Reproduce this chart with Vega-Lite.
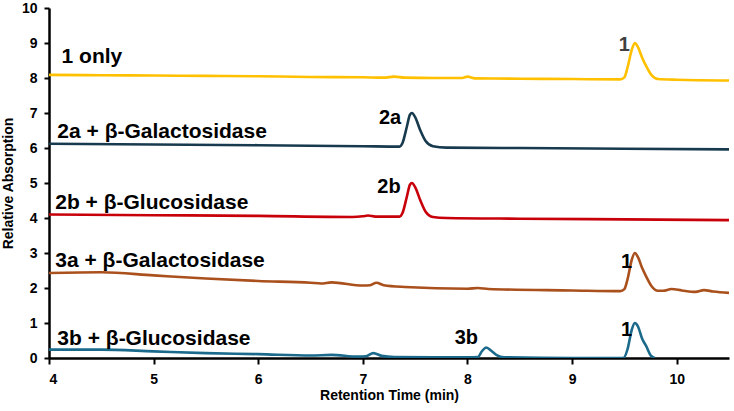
{
  "$schema": "https://vega.github.io/schema/vega-lite/v6.json",
  "width": 680,
  "height": 350,
  "autosize": {"type": "none"},
  "padding": {"left": 49, "top": 8, "right": 5, "bottom": 53},
  "background": "white",
  "config": {
    "view": {"stroke": null},
    "axis": {
      "grid": false,
      "domainColor": "black", "domainWidth": 2.5, "tickColor": "black", "tickWidth": 2,
      "labelFont": "Liberation Sans", "labelFontWeight": "bold", "labelFontSize": 14, "labelColor": "black",
      "titleFont": "Liberation Sans", "titleFontWeight": "bold", "titleFontSize": 14, "titleColor": "black",
      "zindex": 1
    },
    "axisX": {"tickSize": 6, "labelPadding": 8, "titlePadding": 2},
    "axisY": {"tickSize": 5, "labelPadding": 7, "titlePadding": 6}
  },
  "datasets": {
    "traces": [
      {"trace": "1 only", "t": 4.0, "v": 8.09}, {"trace": "1 only", "t": 4.5, "v": 8.08}, {"trace": "1 only", "t": 5.0, "v": 8.07}, {"trace": "1 only", "t": 5.5, "v": 8.06}, {"trace": "1 only", "t": 6.0, "v": 8.05}, {"trace": "1 only", "t": 6.5, "v": 8.03}, {"trace": "1 only", "t": 7.0, "v": 8.02}, {"trace": "1 only", "t": 7.2, "v": 8.01}, {"trace": "1 only", "t": 7.3, "v": 8.04}, {"trace": "1 only", "t": 7.4, "v": 8.01}, {"trace": "1 only", "t": 7.7, "v": 8.0}, {"trace": "1 only", "t": 7.95, "v": 8.0}, {"trace": "1 only", "t": 8.0, "v": 8.04}, {"trace": "1 only", "t": 8.07, "v": 7.99}, {"trace": "1 only", "t": 8.5, "v": 7.98}, {"trace": "1 only", "t": 9.0, "v": 7.97}, {"trace": "1 only", "t": 9.46, "v": 7.96}, {"trace": "1 only", "t": 9.5, "v": 8.02}, {"trace": "1 only", "t": 9.53, "v": 8.3}, {"trace": "1 only", "t": 9.57, "v": 8.8}, {"trace": "1 only", "t": 9.6, "v": 9.0}, {"trace": "1 only", "t": 9.63, "v": 8.88}, {"trace": "1 only", "t": 9.67, "v": 8.58}, {"trace": "1 only", "t": 9.71, "v": 8.33}, {"trace": "1 only", "t": 9.76, "v": 8.08}, {"trace": "1 only", "t": 9.82, "v": 7.97}, {"trace": "1 only", "t": 10.0, "v": 7.95}, {"trace": "1 only", "t": 10.5, "v": 7.93},

      {"trace": "2a + β-Galactosidase", "t": 4.0, "v": 6.12}, {"trace": "2a + β-Galactosidase", "t": 5.0, "v": 6.1}, {"trace": "2a + β-Galactosidase", "t": 6.0, "v": 6.08}, {"trace": "2a + β-Galactosidase", "t": 7.0, "v": 6.05}, {"trace": "2a + β-Galactosidase", "t": 7.35, "v": 6.04}, {"trace": "2a + β-Galactosidase", "t": 7.38, "v": 6.15}, {"trace": "2a + β-Galactosidase", "t": 7.42, "v": 6.6}, {"trace": "2a + β-Galactosidase", "t": 7.45, "v": 6.95}, {"trace": "2a + β-Galactosidase", "t": 7.47, "v": 7.0}, {"trace": "2a + β-Galactosidase", "t": 7.5, "v": 6.88}, {"trace": "2a + β-Galactosidase", "t": 7.55, "v": 6.5}, {"trace": "2a + β-Galactosidase", "t": 7.6, "v": 6.2}, {"trace": "2a + β-Galactosidase", "t": 7.67, "v": 6.05}, {"trace": "2a + β-Galactosidase", "t": 7.8, "v": 6.01}, {"trace": "2a + β-Galactosidase", "t": 8.5, "v": 6.0}, {"trace": "2a + β-Galactosidase", "t": 9.5, "v": 5.98}, {"trace": "2a + β-Galactosidase", "t": 10.5, "v": 5.96},

      {"trace": "2b + β-Glucosidase", "t": 4.0, "v": 4.1}, {"trace": "2b + β-Glucosidase", "t": 5.0, "v": 4.08}, {"trace": "2b + β-Glucosidase", "t": 6.0, "v": 4.06}, {"trace": "2b + β-Glucosidase", "t": 6.9, "v": 4.03}, {"trace": "2b + β-Glucosidase", "t": 7.0, "v": 4.05}, {"trace": "2b + β-Glucosidase", "t": 7.05, "v": 4.07}, {"trace": "2b + β-Glucosidase", "t": 7.12, "v": 4.04}, {"trace": "2b + β-Glucosidase", "t": 7.35, "v": 4.04}, {"trace": "2b + β-Glucosidase", "t": 7.38, "v": 4.15}, {"trace": "2b + β-Glucosidase", "t": 7.42, "v": 4.6}, {"trace": "2b + β-Glucosidase", "t": 7.45, "v": 4.95}, {"trace": "2b + β-Glucosidase", "t": 7.47, "v": 5.0}, {"trace": "2b + β-Glucosidase", "t": 7.5, "v": 4.88}, {"trace": "2b + β-Glucosidase", "t": 7.55, "v": 4.5}, {"trace": "2b + β-Glucosidase", "t": 7.6, "v": 4.18}, {"trace": "2b + β-Glucosidase", "t": 7.67, "v": 4.03}, {"trace": "2b + β-Glucosidase", "t": 7.8, "v": 4.0}, {"trace": "2b + β-Glucosidase", "t": 8.5, "v": 3.98}, {"trace": "2b + β-Glucosidase", "t": 9.5, "v": 3.96}, {"trace": "2b + β-Glucosidase", "t": 10.5, "v": 3.94},

      {"trace": "3a + β-Galactosidase", "t": 4.0, "v": 2.43}, {"trace": "3a + β-Galactosidase", "t": 4.5, "v": 2.45}, {"trace": "3a + β-Galactosidase", "t": 5.0, "v": 2.36}, {"trace": "3a + β-Galactosidase", "t": 5.5, "v": 2.27}, {"trace": "3a + β-Galactosidase", "t": 6.0, "v": 2.2}, {"trace": "3a + β-Galactosidase", "t": 6.5, "v": 2.15}, {"trace": "3a + β-Galactosidase", "t": 6.6, "v": 2.13}, {"trace": "3a + β-Galactosidase", "t": 6.7, "v": 2.16}, {"trace": "3a + β-Galactosidase", "t": 7.0, "v": 2.07}, {"trace": "3a + β-Galactosidase", "t": 7.07, "v": 2.08}, {"trace": "3a + β-Galactosidase", "t": 7.13, "v": 2.15}, {"trace": "3a + β-Galactosidase", "t": 7.2, "v": 2.08}, {"trace": "3a + β-Galactosidase", "t": 7.4, "v": 2.03}, {"trace": "3a + β-Galactosidase", "t": 8.0, "v": 1.98}, {"trace": "3a + β-Galactosidase", "t": 8.1, "v": 2.0}, {"trace": "3a + β-Galactosidase", "t": 8.2, "v": 1.97}, {"trace": "3a + β-Galactosidase", "t": 9.0, "v": 1.93}, {"trace": "3a + β-Galactosidase", "t": 9.46, "v": 1.91}, {"trace": "3a + β-Galactosidase", "t": 9.5, "v": 1.97}, {"trace": "3a + β-Galactosidase", "t": 9.53, "v": 2.25}, {"trace": "3a + β-Galactosidase", "t": 9.57, "v": 2.8}, {"trace": "3a + β-Galactosidase", "t": 9.6, "v": 3.0}, {"trace": "3a + β-Galactosidase", "t": 9.63, "v": 2.88}, {"trace": "3a + β-Galactosidase", "t": 9.67, "v": 2.57}, {"trace": "3a + β-Galactosidase", "t": 9.71, "v": 2.32}, {"trace": "3a + β-Galactosidase", "t": 9.76, "v": 2.05}, {"trace": "3a + β-Galactosidase", "t": 9.82, "v": 1.92}, {"trace": "3a + β-Galactosidase", "t": 9.87, "v": 1.92}, {"trace": "3a + β-Galactosidase", "t": 9.95, "v": 1.97}, {"trace": "3a + β-Galactosidase", "t": 10.05, "v": 1.93}, {"trace": "3a + β-Galactosidase", "t": 10.18, "v": 1.89}, {"trace": "3a + β-Galactosidase", "t": 10.26, "v": 1.94}, {"trace": "3a + β-Galactosidase", "t": 10.35, "v": 1.9}, {"trace": "3a + β-Galactosidase", "t": 10.5, "v": 1.86},

      {"trace": "3b + β-Glucosidase", "t": 4.0, "v": 0.24}, {"trace": "3b + β-Glucosidase", "t": 4.5, "v": 0.24}, {"trace": "3b + β-Glucosidase", "t": 5.0, "v": 0.19}, {"trace": "3b + β-Glucosidase", "t": 5.5, "v": 0.14}, {"trace": "3b + β-Glucosidase", "t": 6.0, "v": 0.11}, {"trace": "3b + β-Glucosidase", "t": 6.5, "v": 0.07}, {"trace": "3b + β-Glucosidase", "t": 6.7, "v": 0.09}, {"trace": "3b + β-Glucosidase", "t": 6.95, "v": 0.04}, {"trace": "3b + β-Glucosidase", "t": 7.03, "v": 0.05}, {"trace": "3b + β-Glucosidase", "t": 7.1, "v": 0.14}, {"trace": "3b + β-Glucosidase", "t": 7.18, "v": 0.06}, {"trace": "3b + β-Glucosidase", "t": 7.3, "v": 0.03}, {"trace": "3b + β-Glucosidase", "t": 8.0, "v": 0.02}, {"trace": "3b + β-Glucosidase", "t": 8.1, "v": 0.03}, {"trace": "3b + β-Glucosidase", "t": 8.14, "v": 0.2}, {"trace": "3b + β-Glucosidase", "t": 8.18, "v": 0.3}, {"trace": "3b + β-Glucosidase", "t": 8.23, "v": 0.2}, {"trace": "3b + β-Glucosidase", "t": 8.28, "v": 0.08}, {"trace": "3b + β-Glucosidase", "t": 8.35, "v": 0.02}, {"trace": "3b + β-Glucosidase", "t": 9.0, "v": 0.0}, {"trace": "3b + β-Glucosidase", "t": 9.49, "v": 0.0}, {"trace": "3b + β-Glucosidase", "t": 9.53, "v": 0.25}, {"trace": "3b + β-Glucosidase", "t": 9.57, "v": 0.8}, {"trace": "3b + β-Glucosidase", "t": 9.6, "v": 1.0}, {"trace": "3b + β-Glucosidase", "t": 9.63, "v": 0.9}, {"trace": "3b + β-Glucosidase", "t": 9.67, "v": 0.55}, {"trace": "3b + β-Glucosidase", "t": 9.71, "v": 0.33}, {"trace": "3b + β-Glucosidase", "t": 9.75, "v": 0.08}, {"trace": "3b + β-Glucosidase", "t": 9.79, "v": 0.0}
    ],
    "labels": [
      {"trace": "1 only", "kind": "series", "label": "1 only", "t": 4.12, "v": 8.6},
      {"trace": "2a + β-Galactosidase", "kind": "series", "label": "2a + β-Galactosidase", "t": 4.08, "v": 6.46},
      {"trace": "2b + β-Glucosidase", "kind": "series", "label": "2b + β-Glucosidase", "t": 4.06, "v": 4.42},
      {"trace": "3a + β-Galactosidase", "kind": "series", "label": "3a + β-Galactosidase", "t": 4.06, "v": 2.76},
      {"trace": "3b + β-Glucosidase", "kind": "series", "label": "3b + β-Glucosidase", "t": 4.08, "v": 0.55},
      {"trace": "1 only", "kind": "peak", "label": "1", "t": 9.5, "v": 8.95},
      {"trace": "2a + β-Galactosidase", "kind": "peak", "label": "2a", "t": 7.26, "v": 6.87},
      {"trace": "2b + β-Glucosidase", "kind": "peak", "label": "2b", "t": 7.25, "v": 4.9},
      {"trace": "3a + β-Galactosidase", "kind": "peak", "label": "1", "t": 9.52, "v": 2.75},
      {"trace": "3b + β-Glucosidase", "kind": "peak", "label": "3b", "t": 7.99, "v": 0.58},
      {"trace": "3b + β-Glucosidase", "kind": "peak", "label": "1", "t": 9.52, "v": 0.8}
    ]
  },
  "encoding": {
    "x": {
      "field": "t", "type": "quantitative",
      "scale": {"domain": [4, 10.5], "nice": false, "zero": false},
      "axis": {"title": "Retention Time (min)", "values": [4, 5, 6, 7, 8, 9, 10]}
    },
    "y": {
      "field": "v", "type": "quantitative",
      "scale": {"domain": [0, 10], "nice": false},
      "axis": {"title": "Relative Absorption", "values": [0, 1, 2, 3, 4, 5, 6, 7, 8, 9, 10]}
    }
  },
  "layer": [
    {
      "data": {"name": "traces"},
      "mark": {"type": "line", "strokeWidth": 2.6, "clip": true, "interpolate": "monotone"},
      "encoding": {
        "color": {
          "field": "trace", "type": "nominal", "legend": null,
          "scale": {
            "domain": ["1 only", "2a + β-Galactosidase", "2b + β-Glucosidase", "3a + β-Galactosidase", "3b + β-Glucosidase"],
            "range": ["#FFC000", "#183A4E", "#C8000A", "#A9501C", "#1B6A8C"]
          }
        }
      }
    },
    {
      "data": {"name": "labels"},
      "transform": [{"filter": "datum.kind === 'series'"}],
      "mark": {"type": "text", "align": "left", "baseline": "middle", "font": "Liberation Sans", "fontWeight": "bold", "fontSize": 21, "color": "black"},
      "encoding": {"text": {"field": "label"}}
    },
    {
      "data": {"name": "labels"},
      "transform": [{"filter": "datum.kind === 'peak'"}],
      "mark": {"type": "text", "align": "center", "baseline": "middle", "font": "Liberation Sans", "fontWeight": "bold", "fontSize": 20},
      "encoding": {
        "text": {"field": "label"},
        "color": {"condition": {"test": "datum.trace === '1 only'", "value": "#404040"}, "value": "black"}
      }
    }
  ]
}
